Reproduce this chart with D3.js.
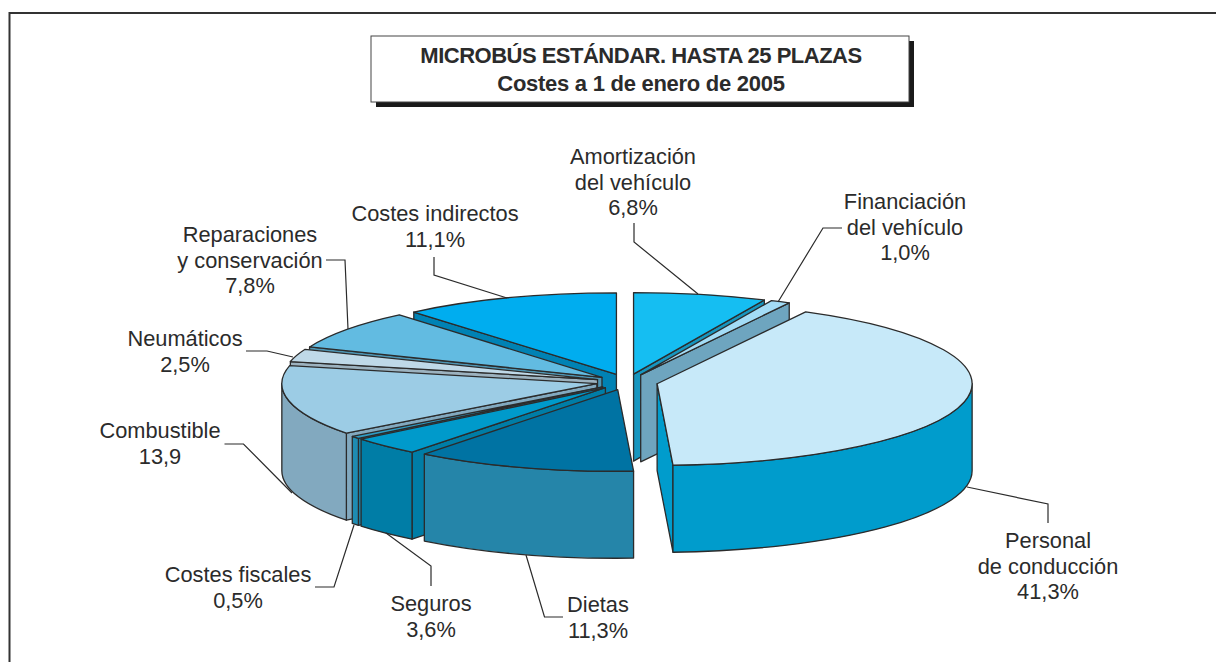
<!DOCTYPE html>
<html>
<head>
<meta charset="utf-8">
<script src="https://cdn.jsdelivr.net/npm/d3@7"></script>
<style>
  html, body { margin: 0; padding: 0; background: #fff; }
  text { font-family: "Liberation Sans", sans-serif; fill: #2b2b2b; }
</style>
</head>
<body>
<div id="vizcontainer"></div>
<script>
// values, clockwise from 12 o'clock
const categories = ['Amortización del vehículo', 'Financiación del vehículo', 'Personal de conducción',
  'Dietas', 'Seguros', 'Costes fiscales', 'Combustible', 'Neumáticos',
  'Reparaciones y conservación', 'Costes indirectos'];
const values = [6.8, 1.0, 41.3, 11.3, 3.6, 0.5, 13.9, 2.5, 7.8, 11.1];
const valueLabels = ['6,8%', '1,0%', '41,3%', '11,3%', '3,6%', '0,5%', '13,9', '2,5%', '7,8%', '11,1%'];
const titleLines = ['MICROBÚS ESTÁNDAR. HASTA 25 PLAZAS', 'Costes a 1 de enero de 2005'];

const topColors = ['#15bef2', '#a3dcf6', '#c7e9f9', '#0073a3', '#009acb', '#2f9cc4', '#9ccce5', '#bfd9e8', '#62bbe1', '#00adef'];
const sideColors = ['#1796bf', '#6ea5bf', '#009ccc', '#2585a9', '#007da6', '#1f8cb2', '#82a9bf', '#9cb2bf', '#4f96b4', '#0082b4'];

const width = 1216,
  height = 662,
  rx = 315,
  ry = 81.6,
  depth = 87,
  center = { x: 627, y: 382 },
  explode = 0.098;

// label block: wrapped lines, centre x, first baseline
const labelLayout = [
  { lines: ['Amortización', 'del vehículo'], x: 633, y: 164 },
  { lines: ['Financiación', 'del vehículo'], x: 905, y: 209 },
  { lines: ['Personal', 'de conducción'], x: 1048, y: 548 },
  { lines: ['Dietas'], x: 598, y: 612 },
  { lines: ['Seguros'], x: 431, y: 611 },
  { lines: ['Costes fiscales'], x: 238, y: 582 },
  { lines: ['Combustible'], x: 160, y: 438 },
  { lines: ['Neumáticos'], x: 185, y: 346 },
  { lines: ['Reparaciones', 'y conservación'], x: 250, y: 242 },
  { lines: ['Costes indirectos'], x: 435, y: 221 }
];
const lineStep = 25.7;

const leaders = [
  [[634, 223], [634, 242], [698, 294]],
  [[842, 228], [823, 228], [778, 302]],
  [[967, 487], [1048, 504], [1048, 523]],
  [[526, 555], [544.5, 617], [563, 617]],
  [[386, 533], [431, 566], [431, 586]],
  [[354, 525], [334, 587], [315, 587]],
  [[224.5, 444], [243.5, 444], [292, 493]],
  [[246, 351], [267, 351], [293, 357]],
  [[326, 260], [345, 260], [348, 329]],
  [[434, 257], [434, 275], [507, 298]]
];

const svg = d3.select('#vizcontainer')
  .append('svg')
  .attr('width', width)
  .attr('height', height)
  .style('display', 'block');

// frame, open to the right and the bottom
svg.append('path')
  .attr('d', `M9.5,${height}V13H${width}`)
  .attr('fill', 'none')
  .attr('stroke', '#333')
  .attr('stroke-width', 2);

// title box
svg.append('rect').attr('x', 376).attr('y', 41).attr('width', 538).attr('height', 66).attr('fill', '#1a1a1a');
svg.append('rect').attr('x', 371).attr('y', 36).attr('width', 538).attr('height', 66)
  .attr('fill', '#fff').attr('stroke', '#444').attr('stroke-width', 1);
svg.selectAll('text.title')
  .data(titleLines)
  .join('text')
  .attr('class', 'title')
  .attr('x', 641)
  .attr('y', (d, i) => 63 + i * 28)
  .attr('text-anchor', 'middle')
  .style('font-size', '22px')
  .style('font-weight', 'bold')
  .style('letter-spacing', (d, i) => i ? '-0.27px' : '-0.5px')
  .text(d => d);

// pie
const pie = d3.pie().sort(null).value(d => d.value);
const slices = pie(values.map((value, i) => ({ value, i, name: categories[i] })));
const arc = d3.arc().innerRadius(0).outerRadius(rx);

slices.forEach(d => {
  const mid = (d.startAngle + d.endAngle) / 2;
  d.mid = mid;
  d.cx = center.x + explode * rx * Math.sin(mid);
  d.cy = center.y - explode * ry * Math.cos(mid);
});

const rim = (d, a, dy = 0) => [d.cx + rx * Math.sin(a), d.cy - ry * Math.cos(a) + dy];

const edgeWall = (d, a) => {
  const p = rim(d, a), q = rim(d, a, depth);
  return `M${d.cx},${d.cy}L${p}L${q}L${d.cx},${d.cy + depth}Z`;
};

const outerWall = d => {
  const a0 = Math.max(d.startAngle, Math.PI / 2),
    a1 = Math.min(d.endAngle, 3 * Math.PI / 2);
  if (a0 >= a1) return null;
  const p0 = rim(d, a0), p1 = rim(d, a1), q0 = rim(d, a0, depth), q1 = rim(d, a1, depth);
  return `M${p0}A${rx},${ry} 0 0 1 ${p1}L${q1}A${rx},${ry} 0 0 0 ${q0}Z`;
};

// back to front
const ordered = slices.slice().sort((a, b) => Math.cos(b.mid) - Math.cos(a.mid));

const sliceG = svg.append('g')
  .selectAll('g')
  .data(ordered)
  .join('g')
  .attr('stroke', '#2b2b2b')
  .attr('stroke-width', 1.3)
  .attr('stroke-linejoin', 'round');

sliceG.each(function (d) {
  const g = d3.select(this), side = sideColors[d.data.i];
  const walls = [];
  if (Math.sin(d.startAngle) < 0) walls.push(edgeWall(d, d.startAngle));
  if (Math.sin(d.endAngle) > 0) walls.push(edgeWall(d, d.endAngle));
  const outer = outerWall(d);
  if (outer) walls.push(outer);
  g.selectAll('path.wall').data(walls).join('path')
    .attr('class', 'wall')
    .attr('fill', side)
    .attr('d', w => w);
  g.append('path')
    .attr('d', arc(d))
    .attr('transform', `translate(${d.cx},${d.cy}) scale(1,${ry / rx})`)
    .attr('vector-effect', 'non-scaling-stroke')
    .attr('fill', topColors[d.data.i]);
});

// leader lines
svg.append('g')
  .selectAll('path')
  .data(leaders)
  .join('path')
  .attr('d', d3.line())
  .attr('fill', 'none')
  .attr('stroke', '#2b2b2b')
  .attr('stroke-width', 1.2);

// labels
const labels = svg.append('g')
  .selectAll('text')
  .data(labelLayout)
  .join('text')
  .attr('text-anchor', 'middle')
  .style('font-size', '21.8px');

labels.selectAll('tspan')
  .data((d, i) => d.lines.concat(valueLabels[i]).map((t, k) => ({ t, k, x: d.x, y: d.y })))
  .join('tspan')
  .attr('x', d => d.x)
  .attr('y', d => d.y + d.k * lineStep)
  .text(d => d.t);
</script>
</body>
</html>
